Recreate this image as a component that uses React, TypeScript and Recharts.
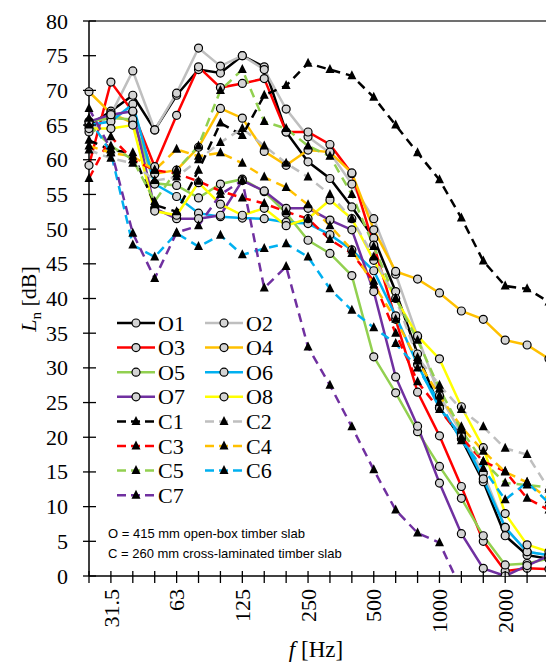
import React from "react";
import { LineChart, Line, XAxis, YAxis, ReferenceLine } from "recharts";

// Third-octave band centre frequencies (Hz)
const bands = ["25","31.5","40","50","63","80","100","125","160","200","250","315","400","500","630","800","1000","1250","1600","2000","2500","3150"];
const shownLabels = ["31.5","63","125","250","500","1000","2000"];
const yTicks = [0,5,10,15,20,25,30,35,40,45,50,55,60,65,70,75,80];

// O = 415 mm open-box timber slab
const O1 = [65.0,67.0,69.3,64.3,69.3,73.0,72.5,75.0,73.4,64.0,59.7,57.3,53.2,48.7,41.0,32.0,24.3,19.8,13.6,5.8,3.0,2.5];
const O2 = [64.0,66.5,72.8,64.3,69.6,76.1,73.5,75.0,73.0,67.3,63.3,61.0,56.5,51.5,43.5,34.5,26.0,20.6,14.8,7.0,3.5,3.0];
const O3 = [59.2,71.2,66.9,59.0,66.4,73.4,70.4,71.0,71.7,64.0,64.0,62.2,58.0,47.7,37.0,26.5,20.2,12.9,5.0,0.7,1.1,1.0];
const O4 = [69.8,66.7,65.3,58.0,58.5,61.8,67.4,66.0,61.2,59.2,61.4,61.1,58.1,49.9,43.9,42.8,40.8,38.2,37.0,34.0,33.3,31.3];
const O5 = [65.5,66.0,65.8,56.6,56.3,54.5,56.5,57.2,55.4,52.3,48.4,46.5,43.3,31.6,26.4,20.8,15.8,11.2,5.8,1.6,1.8,2.5];
const O6 = [65.0,65.5,68.0,56.5,54.7,52.3,51.8,51.6,51.5,51.0,50.8,49.2,47.0,44.0,37.5,30.5,24.2,20.2,14.0,7.0,3.5,3.0];
const O7 = [65.5,66.5,67.0,53.0,51.5,51.5,52.0,57.0,55.5,53.0,53.0,51.3,49.9,41.0,28.7,21.6,13.4,6.1,1.1,0.0,1.5,2.9];
const O8 = [64.5,64.5,65.0,52.6,52.0,56.7,53.6,52.0,53.0,50.5,51.5,54.2,51.5,45.5,40.0,34.6,31.3,24.4,18.5,9.0,4.5,3.5];

// C = 260 mm cross-laminated timber slab
const C1 = [62.8,61.4,61.0,53.5,52.5,58.5,65.3,63.5,69.3,70.7,73.9,73.0,72.1,69.0,65.0,61.0,57.1,51.6,45.4,41.8,41.4,39.5];
const C2 = [61.4,60.2,59.5,57.0,57.5,60.0,62.5,64.5,62.0,59.5,57.5,55.0,51.5,46.0,40.0,31.5,27.5,24.0,21.5,18.4,17.5,12.5];
const C3 = [57.3,63.3,60.0,58.5,58.0,56.9,55.5,54.5,53.7,52.5,51.5,48.5,46.5,42.5,35.0,28.0,24.0,20.0,16.5,15.1,11.2,9.5];
const C4 = [62.0,61.0,60.5,58.5,61.5,60.5,61.0,59.5,57.5,56.0,53.5,50.5,47.0,42.0,37.0,31.0,26.0,21.5,18.0,15.0,13.5,11.0];
const C5 = [65.0,62.0,60.0,54.0,58.5,62.0,70.0,73.0,65.5,64.5,62.0,60.5,55.0,47.5,40.0,34.0,27.0,21.0,16.5,13.4,13.1,12.8];
const C6 = [66.0,61.0,47.7,46.0,49.4,47.5,49.1,46.3,47.2,47.9,46.0,41.4,38.3,35.8,33.5,30.0,25.0,19.5,15.5,11.0,13.5,10.5];
const C7 = [67.4,61.5,49.4,42.9,49.5,50.5,55.0,57.0,41.5,44.6,33.0,27.5,21.5,15.3,9.5,6.2,4.8,-2.0,null,null,null,null];

const seriesNames = ["O1","O2","O3","O4","O5","O6","O7","O8","C1","C2","C3","C4","C5","C6","C7"];
const seriesArrays = [O1,O2,O3,O4,O5,O6,O7,O8,C1,C2,C3,C4,C5,C6,C7];
const seriesColors = ["#000000","#bfbfbf","#ff0000","#ffc000","#92d050","#00b0f0","#7030a0","#ffff00",
  "#000000","#bfbfbf","#ff0000","#ffc000","#92d050","#00b0f0","#7030a0"];

const rows = bands.map((b, i) => {
  const r: any = { i, band: b };
  seriesNames.forEach((n, k) => { r[n] = seriesArrays[k][i]; });
  return r;
});

const SERIF = "'Liberation Serif', 'Times New Roman', serif";
const SANS = "'Liberation Sans', Arial, sans-serif";
const CIRCLE_FILL = "#d4d4d4";

const CircleDot = (props: any) => {
  const { cx, cy, value, index } = props;
  if (cx == null || cy == null || value == null || (typeof value === "number" && value < 0)) return <g key={index} />;
  return <circle key={index} cx={cx} cy={cy} r={4} fill={CIRCLE_FILL} stroke="#000" strokeWidth={1.2} />;
};

const TriDot = (props: any) => {
  const { cx, cy, value, index } = props;
  if (cx == null || cy == null || value == null || (typeof value === "number" && value < 0)) return <g key={index} />;
  return <path key={index} d={`M${cx},${cy - 5.5} L${cx + 4.5},${cy + 3.5} L${cx - 4.5},${cy + 3.5} Z`} fill="#000" />;
};

const YTick = (props: any) => {
  const { x, y, payload } = props;
  return (
    <g>
      <line x1={x - 6} x2={x + 7} y1={y} y2={y} stroke="#000" strokeWidth={1.3} />
      <text x={x - 21} y={y + 7.5} textAnchor="end" fontFamily={SERIF} fontSize={22} fill="#000">{payload.value}</text>
    </g>
  );
};

const XTick = (props: any) => {
  const { x, y, payload } = props;
  const label = bands[payload.value];
  const show = shownLabels.includes(label);
  return (
    <g>
      <line x1={x} x2={x} y1={y - 5} y2={y + 7} stroke="#000" strokeWidth={1.3} />
      {show && (
        <text x={x} y={y + 13} dy="0.35em" textAnchor="end" transform={`rotate(-90, ${x}, ${y + 13})`}
          fontFamily={SERIF} fontSize={22} fill="#000">{label}</text>
      )}
    </g>
  );
};

const legendCol1 = ["O1","O3","O5","O7","C1","C3","C5","C7"];
const legendCol2 = ["O2","O4","O6","O8","C2","C4","C6"];

function LegendEntry({ name, x, y }: { name: string; x: number; y: number }) {
  const k = seriesNames.indexOf(name);
  const isO = name.startsWith("O");
  const color = seriesColors[k];
  return (
    <g>
      <line x1={x} x2={x + 38} y1={y} y2={y} stroke={color} strokeWidth={2.5} strokeDasharray={isO ? undefined : "9 5"} />
      {isO ? (
        <circle cx={x + 19} cy={y} r={4} fill={CIRCLE_FILL} stroke="#000" strokeWidth={1.2} />
      ) : (
        <path d={`M${x + 19},${y - 5.5} L${x + 23.5},${y + 3.5} L${x + 14.5},${y + 3.5} Z`} fill="#000" />
      )}
      <text x={x + 41} y={y + 7.5} fontFamily={SERIF} fontSize={22} fill="#000">{name}</text>
    </g>
  );
}

export default function App() {
  return (
    <div style={{ position: "fixed", left: 0, top: 0, width: 546, height: 665, overflow: "hidden", background: "#fff" }}>
      <LineChart width={560} height={665} data={rows} margin={{ top: 21, right: 11, bottom: 0, left: 0 }}>
        <XAxis type="number" dataKey="i" domain={[0, 21]} ticks={bands.map((_, i) => i)} interval={0}
          height={89} tickSize={0} tickMargin={0} tickLine={false} tick={<XTick />}
          axisLine={{ stroke: "#000", strokeWidth: 1.5 }} />
        <YAxis type="number" domain={[0, 80]} ticks={yTicks} interval={0} allowDataOverflow
          width={89} tickSize={0} tickMargin={0} tickLine={false} tick={<YTick />}
          axisLine={{ stroke: "#000", strokeWidth: 1.5 }} />
        <ReferenceLine y={80} stroke="#404040" strokeWidth={1.5} />
        {seriesNames.map((n, k) => {
          const isO = n.startsWith("O");
          return (
            <Line key={n} type="linear" dataKey={n} stroke={seriesColors[k]} strokeWidth={2.5}
              strokeDasharray={isO ? undefined : "9 6"}
              dot={isO ? <CircleDot /> : <TriDot />} activeDot={false}
              isAnimationActive={false} connectNulls={false} />
          );
        })}
      </LineChart>
      <svg width={546} height={665} style={{ position: "absolute", left: 0, top: 0, pointerEvents: "none" }}>
        <text transform="rotate(-90, 28, 299)" x={28} y={299} dy="0.35em" textAnchor="middle" fontFamily={SERIF} fontSize={22} fill="#000">
          <tspan fontStyle="italic">L</tspan>
          <tspan fontSize={15} dy={5}>n</tspan>
          <tspan dy={-5}> [dB]</tspan>
        </text>
        <text x={316} y={657} textAnchor="middle" fontFamily={SERIF} fontSize={23} fill="#000">
          <tspan fontStyle="italic">f</tspan>
          <tspan> [Hz]</tspan>
        </text>
        {legendCol1.map((n, r) => <LegendEntry key={n} name={n} x={117} y={323 + r * 24.6} />)}
        {legendCol2.map((n, r) => <LegendEntry key={n} name={n} x={205} y={323 + r * 24.6} />)}
        <text x={108} y={538} fontFamily={SANS} fontSize={13} fill="#000">O = 415 mm open-box timber slab</text>
        <text x={108} y={558} fontFamily={SANS} fontSize={13} fill="#000">C = 260 mm cross-laminated timber slab</text>
      </svg>
    </div>
  );
}
